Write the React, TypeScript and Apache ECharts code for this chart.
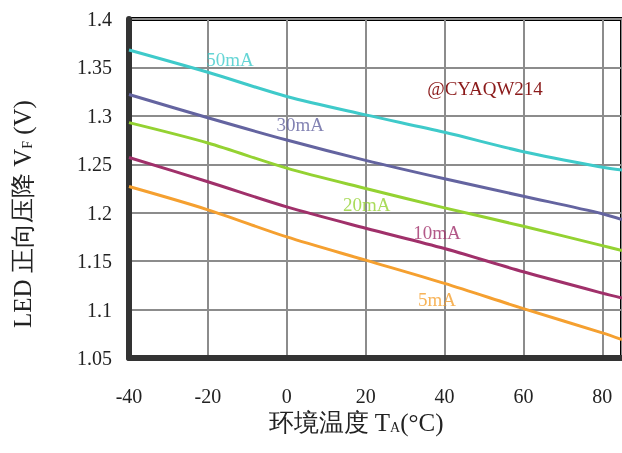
import React, { useEffect, useRef } from "react";
import * as echarts from "echarts";

const temps = [-40, -20, 0, 20, 40, 60, 80, 85];
const v50mA = [1.368, 1.345, 1.32, 1.301, 1.283, 1.263, 1.247, 1.244];
const v30mA = [1.322, 1.298, 1.275, 1.254, 1.235, 1.217, 1.199, 1.193];
const v20mA = [1.293, 1.272, 1.246, 1.225, 1.205, 1.186, 1.166, 1.161];
const v10mA = [1.257, 1.232, 1.206, 1.184, 1.163, 1.139, 1.117, 1.112];
const v5mA = [1.227, 1.203, 1.175, 1.151, 1.127, 1.101, 1.076, 1.069];
const seriesNames = ["50mA", "30mA", "20mA", "10mA", "5mA"];
const seriesColors = ["#3fcaca", "#6464a0", "#94d232", "#a0306a", "#f5a030"];
const labelPos: [number, number][] = [
  [-14.4, 1.358],
  [3.4, 1.291],
  [20.3, 1.208],
  [38.1, 1.18],
  [38.1, 1.11],
];

const FONT = "'Liberation Serif', 'Times New Roman', serif";

export default function App() {
  const ref = useRef<HTMLDivElement>(null);
  useEffect(() => {
    const chart = echarts.init(ref.current!, null, { renderer: "svg" });
    const all = [v50mA, v30mA, v20mA, v10mA, v5mA];
    chart.setOption({
      animation: false,
      grid: {
        left: 129,
        top: 19,
        right: 0,
        bottom: 95,
        show: true,
        borderColor: "#000",
        borderWidth: 4,
      },
      xAxis: {
        type: "value",
        min: -40,
        max: 85,
        interval: 20,
        axisLine: { show: true, onZero: false, lineStyle: { color: "#333", width: 6 } },
        axisTick: { show: false },
        axisLabel: {
          color: "#222",
          fontFamily: FONT,
          fontSize: 20,
          margin: 28,
          showMaxLabel: false,
        },
        splitLine: { show: true, lineStyle: { color: "#8c8c8c", width: 2 } },
      },
      yAxis: {
        type: "value",
        min: 1.05,
        max: 1.4,
        interval: 0.05,
        axisLine: { show: true, onZero: false, lineStyle: { color: "#333", width: 6 } },
        axisTick: { show: false },
        axisLabel: {
          color: "#222",
          fontFamily: FONT,
          fontSize: 20,
          margin: 17,
          formatter: (v: number) => String(Math.round(v * 100) / 100),
        },
        splitLine: { show: true, lineStyle: { color: "#8c8c8c", width: 2 } },
      },
      series: [
        ...all.map((vals, i) => ({
          name: seriesNames[i],
          type: "line",
          smooth: 0.3,
          showSymbol: false,
          data: temps.map((t, j) => [t, vals[j]]),
          lineStyle: { color: seriesColors[i], width: 3 },
          z: 3,
        })),
        {
          type: "scatter",
          symbolSize: 0,
          data: labelPos.map((p, i) => ({
            value: p,
            label: {
              show: true,
              position: "inside",
              formatter: seriesNames[i],
              color: seriesColors[i],
              fontFamily: FONT,
              fontSize: 19,
            },
          })),
          z: 5,
        },
      ],
      graphic: [
        {
          type: "text",
          x: 485,
          y: 88,
          style: {
            text: "@CYAQW214",
            fill: "#8b1a1a",
            font: `19px ${FONT}`,
            align: "center",
            verticalAlign: "middle",
          },
        },
        {
          type: "text",
          x: 22,
          y: 214,
          rotation: Math.PI / 2,
          style: {
            text: "{a|LED 正向压降 V}{s|F}{a| (V)}",
            align: "center",
            verticalAlign: "middle",
            rich: {
              a: { font: `25px ${FONT}`, fill: "#222" },
              s: { font: `14px ${FONT}`, fill: "#222", padding: [10, 0, 0, 0] },
            },
          },
        },
        {
          type: "text",
          x: 356,
          y: 422,
          style: {
            text: "{a|环境温度 T}{s|A}{a|(°C)}",
            align: "center",
            verticalAlign: "middle",
            rich: {
              a: { font: `25px ${FONT}`, fill: "#222" },
              s: { font: `14px ${FONT}`, fill: "#222", padding: [10, 0, 0, 0] },
            },
          },
        },
      ],
    });
    return () => chart.dispose();
  }, []);
  return <div ref={ref} style={{ width: 622, height: 453, position: "fixed", left: 0, top: 0 }} />;
}
